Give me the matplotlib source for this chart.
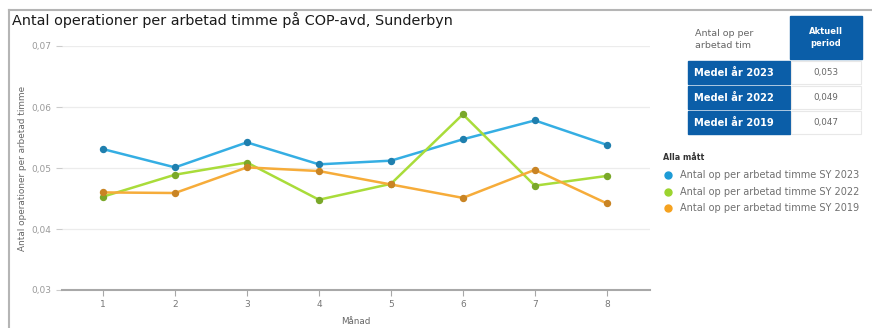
import matplotlib.pyplot as plt
from matplotlib.patches import Rectangle
from matplotlib.lines import Line2D

# monthly values per year
months = [1, 2, 3, 4, 5, 6, 7, 8]
sy2023 = [0.0531, 0.0501, 0.0542, 0.0506, 0.0512, 0.0547, 0.0578, 0.0538]
sy2022 = [0.0453, 0.0489, 0.0509, 0.0448, 0.0474, 0.0588, 0.0471, 0.0487]
sy2019 = [0.0460, 0.0459, 0.0501, 0.0495, 0.0473, 0.0451, 0.0497, 0.0442]

series_names = ["Antal op per arbetad timme SY 2023",
                "Antal op per arbetad timme SY 2022",
                "Antal op per arbetad timme SY 2019"]
row_names = ["Medel år 2023", "Medel år 2022", "Medel år 2019"]
row_values = ["0,053", "0,049", "0,047"]
yticks = [0.03, 0.04, 0.05, 0.06, 0.07]

W, H = 872, 328
line_cols = ["#35aee3", "#a9dc3a", "#f6ac3a"]
dot_cols = ["#1f7fae", "#7aa82a", "#c98424"]
legend_cols = ["#1d9bd6", "#9bd42e", "#f5a21f"]
blue = "#0b5ea8"


def fx(x):
    return x / W


def fy(y):
    return 1 - y / H


plt.rcParams['font.family'] = ['DejaVu Sans']
fig = plt.figure(figsize=(W / 100, H / 100), dpi=100, facecolor="white")

# outer frame lines
fig.add_artist(Line2D([fx(9), fx(W)], [fy(10), fy(10)], color="#b5b5b5", lw=1.5))
fig.add_artist(Line2D([fx(9), fx(9)], [fy(10), fy(H)], color="#b5b5b5", lw=1.5))

fig.text(fx(12), fy(20), "Antal operationer per arbetad timme på COP-avd, Sunderbyn",
         fontsize=10.4, color="#1a1a1a", va="center", ha="left")

ax = fig.add_axes([fx(62), fy(290), fx(650 - 62), (290 - 46) / H])
for vals, lc, dc in zip([sy2023, sy2022, sy2019], line_cols, dot_cols):
    ax.plot(months, vals, color=lc, lw=1.8, marker="o", ms=4.3,
            markerfacecolor=dc, markeredgecolor=dc, zorder=3)

ax.set_xlim(0.43, 8.6)
ax.set_ylim(0.03, 0.07)
ax.set_xticks(months)
ax.set_yticks(yticks)
ax.set_yticklabels([f"{v:.2f}".replace(".", ",") for v in yticks])
ax.grid(axis="y", color="#ececec", lw=0.9)
ax.set_axisbelow(True)
for s in ["top", "right", "left"]:
    ax.spines[s].set_visible(False)
ax.spines["bottom"].set_color("#a8a8a8")
ax.spines["bottom"].set_linewidth(1.5)
ax.tick_params(axis="y", length=4, color="#cccccc", labelsize=6.5, labelcolor="#9a9a9a", pad=4)
ax.tick_params(axis="x", length=4, color="#a8a8a8", labelsize=6.5, labelcolor="#777777", pad=3)
ax.set_xlabel("Månad", fontsize=6.3, color="#666666", labelpad=6)
ax.set_ylabel("Antal operationer per arbetad timme", fontsize=6.4, color="#666666")
ax.yaxis.set_label_coords((27 - 62) / 588, 0.5)

# summary table
fig.text(fx(695), fy(33), "Antal op per", fontsize=6.8, color="#666666", va="center")
fig.text(fx(695), fy(45), "arbetad tim", fontsize=6.8, color="#666666", va="center")
fig.add_artist(Rectangle((fx(790), fy(59)), fx(72), 43 / H, color=blue))
fig.text(fx(826), fy(31), "Aktuell", fontsize=6, color="white", weight="bold", ha="center", va="center")
fig.text(fx(826), fy(43), "period", fontsize=6, color="white", weight="bold", ha="center", va="center")
for i, (name, val) in enumerate(zip(row_names, row_values)):
    top = 61 + i * 25
    fig.add_artist(Rectangle((fx(688), fy(top + 23)), fx(102), 23 / H, color=blue))
    fig.add_artist(Rectangle((fx(791), fy(top + 23)), fx(70), 23 / H, facecolor="white",
                             edgecolor="#e8e8e8", lw=0.8))
    fig.text(fx(734), fy(top + 11.5), name, fontsize=7.1, color="white", weight="bold",
             ha="center", va="center")
    fig.text(fx(826), fy(top + 11.5), val, fontsize=6.3, color="#666666",
             ha="center", va="center")

# legend
fig.text(fx(663), fy(157), "Alla mått", fontsize=5.8, color="#333333", weight="bold", va="center")
for i, (name, c) in enumerate(zip(series_names, legend_cols)):
    y = 175 + i * 16.7
    fig.add_artist(Line2D([fx(668)], [fy(y)], marker="o", ms=5, color=c, lw=0))
    fig.text(fx(680), fy(y), name, fontsize=7.0, color="#707070", va="center")

plt.savefig("out.png", dpi=100)
